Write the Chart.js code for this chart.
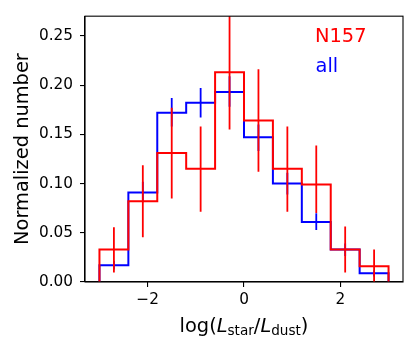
<!DOCTYPE html>
<html><head><meta charset="utf-8">
<script src="https://cdn.jsdelivr.net/npm/chart.js@4/dist/chart.umd.min.js"></script>
<style>html,body{margin:0;padding:0;background:#fff}canvas{display:block}</style>
</head><body>
<canvas id="c" width="415" height="349"></canvas>
<script>
// ---- data ----
const binEdges   = [-3.0, -2.4, -1.8, -1.2, -0.6, 0.0, 0.6, 1.2, 1.8, 2.4, 3.0];
const allValues  = [0.017, 0.091, 0.172, 0.182, 0.193, 0.147, 0.100, 0.061, 0.033, 0.009];
const allLower   = [0.0126, 0.0809, 0.158, 0.167, 0.178, 0.133, 0.089, 0.0527, 0.0265, 0.0055];
const allUpper   = [0.0216, 0.1019, 0.187, 0.197, 0.209, 0.160, 0.111, 0.0699, 0.0391, 0.0119];
const n157Values = [0.033, 0.082, 0.131, 0.115, 0.213, 0.164, 0.115, 0.099, 0.033, 0.016];
const n157Lower  = [0.0097, 0.0455, 0.0847, 0.0713, 0.155, 0.112, 0.0713, 0.070, 0.0097, 0.0];
const n157Upper  = [0.0555, 0.1185, 0.177, 0.158, 0.272, 0.216, 0.158, 0.1387, 0.0563, 0.033];
const xTicks = [-2, 0, 2];
const yTicks = [0, 0.05, 0.10, 0.15, 0.20, 0.25];
const seriesNames = ['N157', 'all'];
const xTitleParts = ['log(', 'L', 'star', '/', 'L', 'dust', ')'];
const yTitle = 'Normalized number';

// ---- build library data ----
function stepPoints(vals) {
  const pts = [{x: binEdges[0], y: 0}];
  vals.forEach((v, i) => { pts.push({x: binEdges[i], y: v}); pts.push({x: binEdges[i + 1], y: v}); });
  pts.push({x: binEdges[binEdges.length - 1], y: 0});
  return pts;
}
function errPoints(lo, hi) {
  const pts = [];
  lo.forEach((l, i) => {
    const c = (binEdges[i] + binEdges[i + 1]) / 2;
    pts.push({x: c, y: l}); pts.push({x: c, y: hi[i]}); pts.push({x: c, y: null});
  });
  return pts;
}
const RED = '#ff0000', BLUE = '#0000ff';
const common = {pointRadius: 0, pointHoverRadius: 0, tension: 0, fill: false, spanGaps: false,
  borderJoinStyle: 'miter', borderCapStyle: 'butt'};

const frameAndText = {
  id: 'frameAndText',
  afterDraw(chart) {
    const ctx = chart.ctx, a = chart.chartArea;
    ctx.save();
    ctx.strokeStyle = '#000'; ctx.lineWidth = 1.1;
    ctx.strokeRect(a.left, a.top, a.right - a.left, a.bottom - a.top);
    // legend-like labels
    ctx.textBaseline = 'alphabetic'; ctx.textAlign = 'left';
    ctx.font = '19.4px "DejaVu Sans"';
    ctx.fillStyle = RED; ctx.fillText(seriesNames[0], 315, 42);
    ctx.fillStyle = BLUE; ctx.fillText(seriesNames[1], 315.5, 71.7);
    // y title
    ctx.fillStyle = '#000';
    ctx.save();
    ctx.translate(28, (a.top + a.bottom) / 2);
    ctx.rotate(-Math.PI / 2);
    ctx.textAlign = 'center';
    ctx.fillText(yTitle, 0, 0);
    ctx.restore();
    // x title with italic L and subscripts
    const big = '19.4px "DejaVu Sans"', ital = 'italic 19.4px "DejaVu Sans"', sub = '13.6px "DejaVu Sans"';
    const fonts = [big, ital, sub, big, ital, sub, big];
    const dys = [0, 0, 3, 0, 0, 3, 0];
    let total = 0;
    const widths = xTitleParts.map((t, i) => { ctx.font = fonts[i]; const w = ctx.measureText(t).width; total += w; return w; });
    let x = (a.left + a.right) / 2 - total / 2;
    const base = 332;
    xTitleParts.forEach((t, i) => { ctx.font = fonts[i]; ctx.fillText(t, x, base + dys[i]); x += widths[i]; });
    ctx.restore();
  }
};

const tickFont = {family: 'DejaVu Sans', size: 15.3};
new Chart(document.getElementById('c'), {
  type: 'line',
  data: {datasets: [
    Object.assign({data: stepPoints(allValues), borderColor: BLUE, borderWidth: 2, order: 4}, common),
    Object.assign({data: errPoints(allLower, allUpper), borderColor: BLUE, borderWidth: 1.8, order: 3}, common),
    Object.assign({data: stepPoints(n157Values), borderColor: RED, borderWidth: 2, order: 2}, common),
    Object.assign({data: errPoints(n157Lower, n157Upper), borderColor: RED, borderWidth: 1.8, order: 1}, common)
  ]},
  options: {
    responsive: false, animation: false, devicePixelRatio: 1,
    events: [],
    plugins: {legend: {display: false}, tooltip: {enabled: false}},
    layout: {padding: {left: 0, right: 12, top: 12, bottom: 0}},
    scales: {
      x: {
        type: 'linear', min: -3.3, max: 3.3,
        afterFit: s => { s.height = 67; },
        afterBuildTicks: s => { s.ticks = xTicks.map(v => ({value: v})); },
        ticks: {font: tickFont, color: '#000', padding: 4, maxRotation: 0, autoSkip: false,
          callback: v => (v < 0 ? '\u2212' + Math.abs(v) : String(v))},
        grid: {drawOnChartArea: false, drawTicks: true, tickLength: 5, color: '#000', lineWidth: 1.1},
        border: {display: true, color: '#000', width: 1.1}
      },
      y: {
        type: 'linear', min: 0, max: 0.27,
        afterFit: s => { s.width = 85; },
        afterBuildTicks: s => { s.ticks = yTicks.map(v => ({value: v})); },
        ticks: {font: tickFont, color: '#000', padding: 7, autoSkip: false,
          callback: v => Number(v).toFixed(2)},
        grid: {drawOnChartArea: false, drawTicks: true, tickLength: 5, color: '#000', lineWidth: 1.1},
        border: {display: true, color: '#000', width: 1.1}
      }
    }
  },
  plugins: [frameAndText]
});
</script>
</body></html>
